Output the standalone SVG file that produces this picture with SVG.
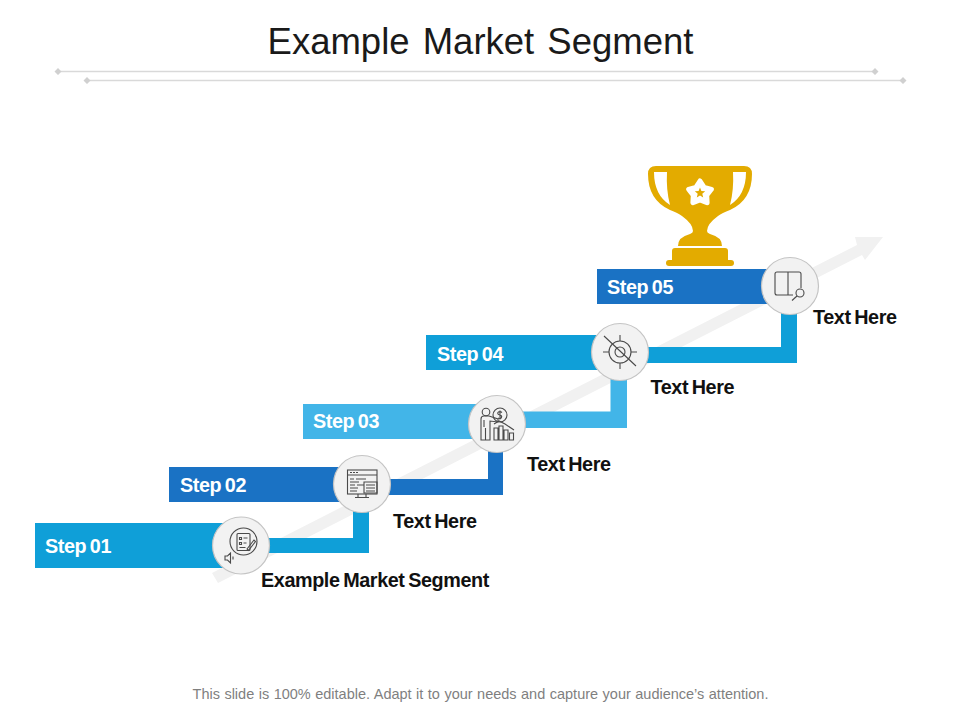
<svg xmlns="http://www.w3.org/2000/svg" width="960" height="720" viewBox="0 0 960 720">
<style>
text{font-family:"Liberation Sans",Arial,sans-serif}
.title{font-size:36.500px;fill:#1a1a1a;word-spacing:3px}
.step{font-size:19.800px;font-weight:bold;fill:#fff;letter-spacing:-.4px;word-spacing:-1.500px}
.lab{font-size:19.800px;font-weight:bold;fill:#111;letter-spacing:-.4px;word-spacing:-1.500px}
.foot{font-size:14.500px;fill:#7f7f7f;word-spacing:.45px}
.rule{stroke:#d9d9d9;stroke-width:1.300;fill:none}
.dot{fill:#d0d0d0}
.disc{fill:#f2f2f2;stroke:#c4c4c4;stroke-width:1.200}
.ic{fill:none;stroke:#4a4a4a;stroke-width:1.100}
.c1{fill:#0f9fd8}.c2{fill:#1a72c4}.c3{fill:#42b5e8}
</style>
<rect width="960" height="720" fill="#fff"/>
<text class="title" x="480.500" y="54" text-anchor="middle">Example Market Segment</text>
<g id="rules">
<path class="rule" d="M58 71.500H875M87 80.500H903"/>
<path class="dot" d="M58 68l3.500 3.500-3.500 3.500-3.500-3.500zM875 68l3.500 3.500-3.500 3.500-3.500-3.500zM87 77l3.500 3.500-3.500 3.500-3.500-3.500zM903 77l3.500 3.500-3.500 3.500-3.500-3.500z"/>
</g>
<polygon id="growth-arrow" points="212,573 857,245 855,237 883,237 865,260 862,255 218,583" fill="#f1f1f1"/>
<g id="trophy" fill="#e3ab00">
<path fill-rule="evenodd" d="M656 166H744Q752 166 752 174Q752 200 730 210Q722 213 718 216Q707 224 707 231Q707 233 710 234Q722 237 722 246H678Q678 237 690 234Q693 233 693 231Q693 224 682 216Q678 213 670 210Q648 200 648 174Q648 166 656 166ZM654 172Q654 195 670 205Q666 190 667 172ZM746 172Q746 195 730 205Q734 190 733 172Z"/>
<path d="M675 248H725Q728 248 728 251V261H672V251Q672 248 675 248Z"/>
<rect x="666" y="260" width="68" height="6" rx="3"/>
<path fill="#fff" stroke="#fff" stroke-width="5" stroke-linejoin="round" d="M700 181L704.100 187.300 711.400 189.300 706.700 195.200 707.100 202.700 700 200 692.900 202.700 693.300 195.200 688.600 189.300 695.900 187.300Z"/>
<path d="M700 187.500L701.400 191 705.200 191.300 702.300 193.700 703.200 197.500 700 195.400 696.800 197.500 697.700 193.700 694.800 191.300 698.600 191Z"/>
</g>
<g id="connectors">
<path class="c1" d="M240 538H353V500H369V553H240z"/>
<path class="c2" d="M362 479H488V440H503V495H362z"/>
<path class="c3" d="M497 411.500H610.500V370H627V428H497z"/>
<path class="c1" d="M620 347H781V300H797V363H620z"/>
</g>
<g id="step-01">
<rect class="c1" x="35" y="523" width="206" height="45"/>
<circle class="disc" cx="241" cy="545.500" r="28.500"/>
<text class="step" x="45" y="553">Step 01</text>
<g class="ic"><circle cx="243.500" cy="541.500" r="13.500"/><rect x="237" y="533.500" width="13" height="17" rx="1"/><path d="M239.500 537.500h2v2h-2zM239.500 542.500h2v2h-2zM243.500 538h4M243.500 543h3M239.500 547.500h6M247 549l7-9 1.500 1.500-7 9z"/><path d="M225 556h2.500l3-3v10l-3-3H225zM233 556.500v3"/></g>
<text class="lab" x="261" y="587">Example Market Segment</text>
</g>
<g id="step-02">
<rect class="c2" x="169" y="467" width="193" height="35"/>
<circle class="disc" cx="362" cy="484" r="28.500"/>
<text class="step" x="180" y="491.500">Step 02</text>
<g class="ic"><rect x="347.500" y="470" width="29.500" height="24"/><path d="M347.500 475h29.500M350 472.500h2M353 472.500h2M356 472.500h2M350 479h4M356 479h10M350 482h9M350 485h5M357 485h7M350 488h8M350 491h7M364 482h13v11h-13zM366 485h9M366 488h9M366 491h9M355 497.500h14M358 494v3.500M366 494v3.500"/></g>
<text class="lab" x="393" y="527.500">Text Here</text>
</g>
<g id="step-03">
<rect class="c3" x="303" y="404" width="194" height="35"/>
<circle class="disc" cx="497" cy="424" r="28.500"/>
<text class="step" x="313" y="428">Step 03</text>
<g class="ic"><circle cx="486" cy="412" r="3.800"/><path d="M481 440v-21q0-3 3-3h5l9 3v3l-8-1v19zM485.500 428v12M484 420v7"/><circle cx="500" cy="415" r="7"/><path d="M502 412.500q-2-1.500-3.500-.5t0 2.500q4 1 3 3t-3.500 .5M500 410.500v9"/><path d="M494 440v-12h4v12zM499 440v-14h4v14zM504 440v-10h4v10zM509.500 440v-7h4v7zM494 424l5-3 6 3 9 6"/></g>
<text class="lab" x="527" y="471">Text Here</text>
</g>
<g id="step-04">
<rect class="c1" x="426" y="335" width="194" height="35"/>
<circle class="disc" cx="620" cy="352" r="28.500"/>
<text class="step" x="437" y="361">Step 04</text>
<g class="ic" stroke-width="1.300"><circle cx="620" cy="352" r="11"/><circle cx="620" cy="352" r="5"/><path d="M620 335v6M620 363v6M603 352h6M631 352h6M604 336l32 30"/></g>
<text class="lab" x="650.500" y="394">Text Here</text>
</g>
<g id="step-05">
<rect class="c2" x="597" y="269" width="193" height="35"/>
<circle class="disc" cx="790" cy="286" r="28.500"/>
<text class="step" x="607" y="294">Step 05</text>
<g class="ic" stroke-width="1.500"><path d="M788 272h-11q-2 0-2 2v19q0 2 2 2h11zM788 272h11q2 0 2 2v14M788 295h5"/><circle cx="800" cy="293" r="4"/><path d="M797 296l-5 4.500"/></g>
<text class="lab" x="813" y="324">Text Here</text>
</g>
<text class="foot" x="480.500" y="699" text-anchor="middle">This slide is 100% editable. Adapt it to your needs and capture your audience’s attention.</text>
</svg>
